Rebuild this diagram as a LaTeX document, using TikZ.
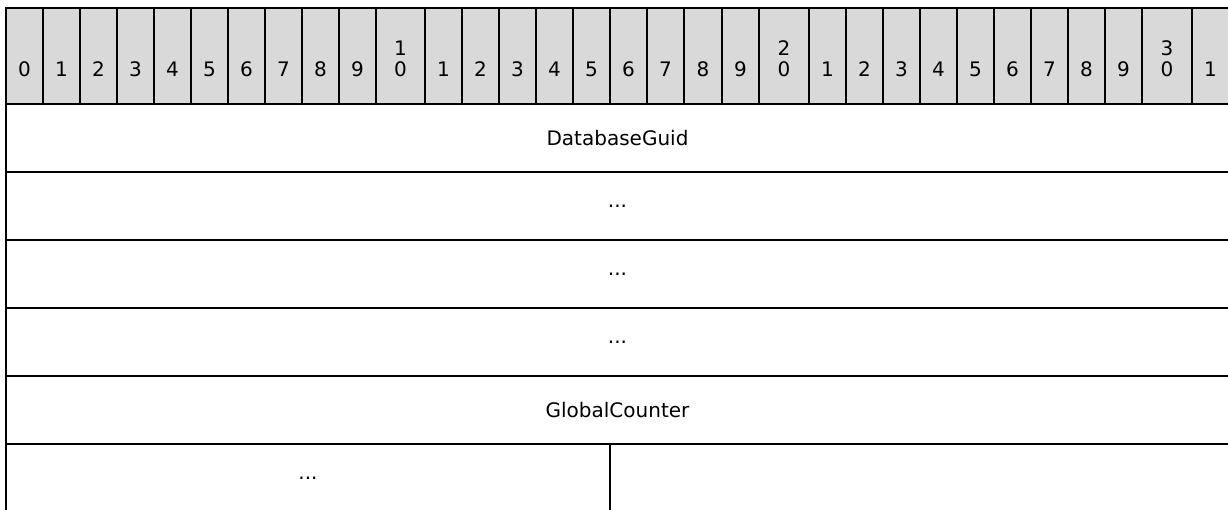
\documentclass[tikz,border=0pt]{standalone}
\usepackage{fontspec}
\setmainfont{DejaVu Sans}
\begin{document}
\begin{tikzpicture}[x=1pt,y=-1pt,
  every node/.style={inner sep=0pt,outer sep=0pt,font=\fontsize{20}{24}\selectfont},
  hdrcell/.style={draw=black,line width=2pt,fill=hdrgray,anchor=north west,minimum height=96pt},
  fieldcell/.style={draw=black,line width=2pt,anchor=north west,minimum height=68pt},
  digit/.style={anchor=base},
  flabel/.style={anchor=center}]
\definecolor{hdrgray}{HTML}{D9D9D9}
\useasboundingbox (0,0) rectangle (1228,510);
% header cells
\foreach \a/\b/\d [count=\i from 0] in {6/43/0,43/80/1,80/117/2,117/154/3,154/191/4,191/228/5,228/265/6,265/302/7,302/339/8,339/376/9,376/425/0,425/462/1,462/499/2,499/536/3,536/573/4,573/610/5,610/647/6,647/684/7,684/722/8,722/759/9,759/809/0,809/846/1,846/883/2,883/920/3,920/957/4,957/994/5,994/1031/6,1031/1068/7,1068/1105/8,1105/1142/9,1142/1192/0,1192/1229/1}{
  \pgfmathsetmacro{\w}{\b-\a}
  \node[hdrcell,minimum width=\w pt] (h\i) at (\a,8) {};
  \node[digit] (d\i) at ({(\a+\b)/2},77) {\d};
}
\node[digit] (t10) at ({(376+425)/2},56) {1};
\node[digit] (t20) at ({(759+809)/2},56) {2};
\node[digit] (t30) at ({(1142+1192)/2},56) {3};
% field rows
\node[fieldcell,minimum width=1223pt] (r1) at (6,104) {};
\node[fieldcell,minimum width=1223pt] (r2) at (6,172) {};
\node[fieldcell,minimum width=1223pt] (r3) at (6,240) {};
\node[fieldcell,minimum width=1223pt] (r4) at (6,308) {};
\node[fieldcell,minimum width=1223pt] (r5) at (6,376) {};
\node[fieldcell,minimum width=604pt] (r6) at (6,444) {};
\node[flabel] (l1) at (r1.center) {DatabaseGuid};
\node[flabel] (l2) at (r2.center) {...};
\node[flabel] (l3) at (r3.center) {...};
\node[flabel] (l4) at (r4.center) {...};
\node[flabel] (l5) at (r5.center) {GlobalCounter};
\node[flabel] (l6) at (r6.center) {...};
\end{tikzpicture}
\end{document}
